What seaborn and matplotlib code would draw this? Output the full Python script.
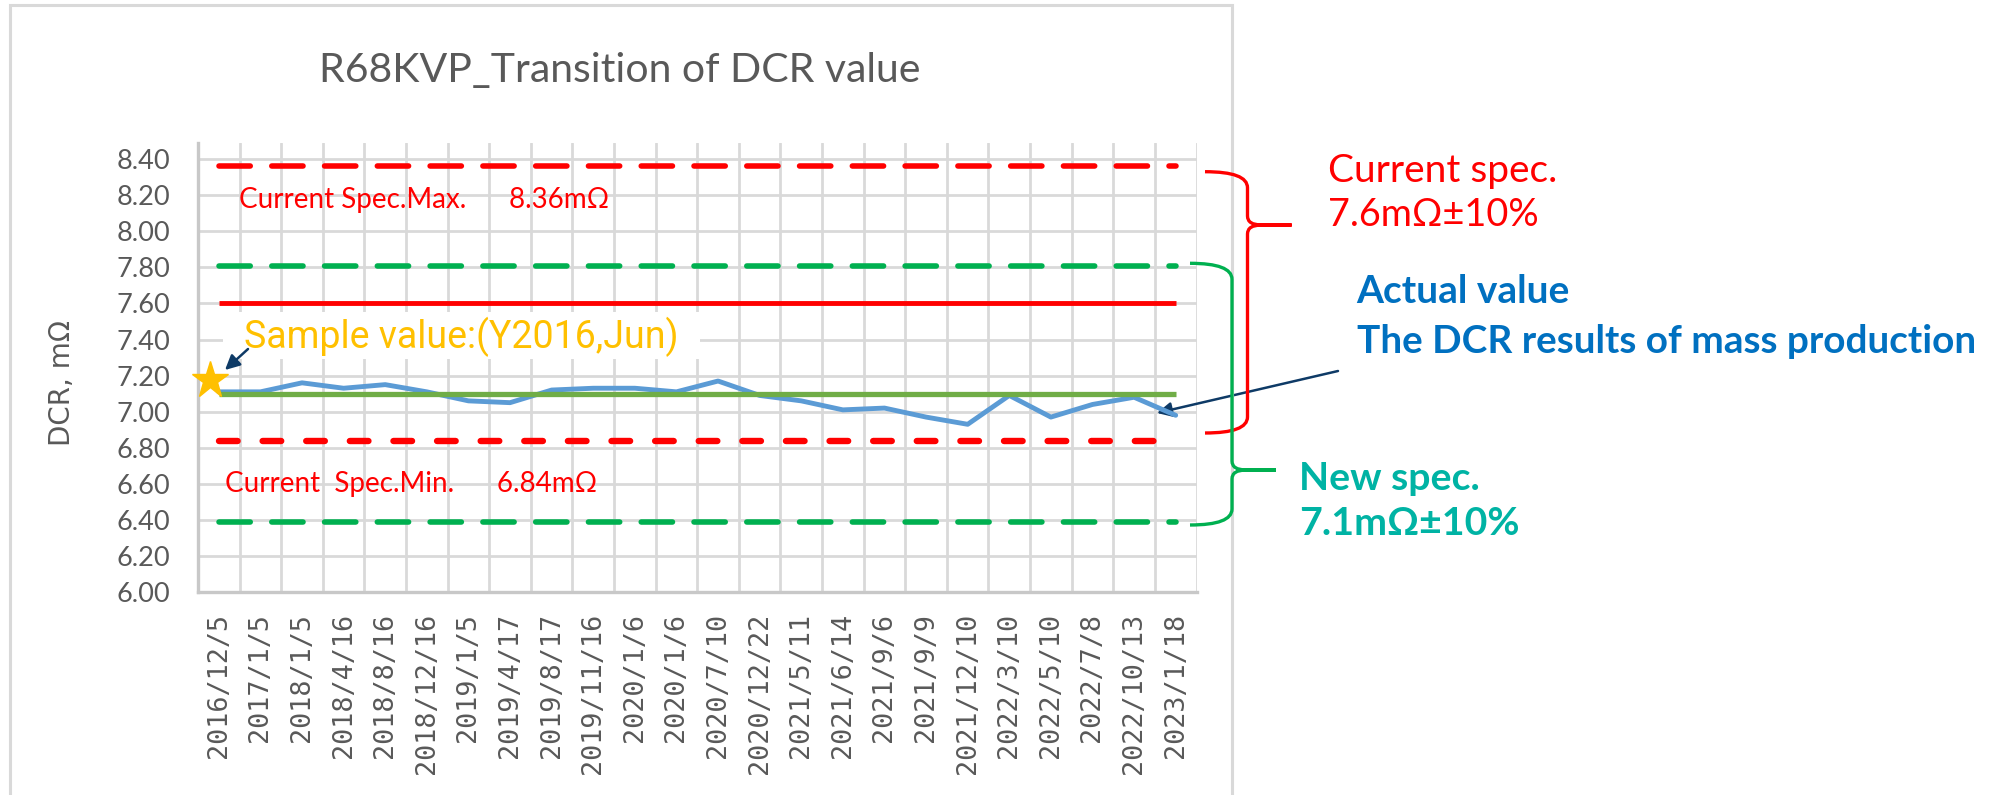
import numpy as np
import pandas as pd
import matplotlib
matplotlib.use("Agg")
import matplotlib.pyplot as plt
from matplotlib.path import Path
from matplotlib.patches import PathPatch, Rectangle
import seaborn as sns

# データ
dates = ["2016/12/5", "2017/1/5", "2018/1/5", "2018/4/16", "2018/8/16", "2018/12/16",
         "2019/1/5", "2019/4/17", "2019/8/17", "2019/11/16", "2020/1/6", "2020/1/6",
         "2020/7/10", "2020/12/22", "2021/5/11", "2021/6/14", "2021/9/6", "2021/9/9",
         "2021/12/10", "2022/3/10", "2022/5/10", "2022/7/8", "2022/10/13", "2023/1/18"]
dcr = [7.11, 7.11, 7.16, 7.13, 7.15, 7.11, 7.06, 7.05, 7.12, 7.13, 7.13, 7.11,
       7.17, 7.09, 7.06, 7.01, 7.02, 6.97, 6.93, 7.09, 6.97, 7.04, 7.08, 6.98]
sample_x = -0.22
sample_value = 7.175
cur_spec, cur_max, cur_min = 7.60, 8.36, 6.84
new_spec, new_max, new_min = 7.10, 7.81, 6.39
y_ticks = [6.00, 6.20, 6.40, 6.60, 6.80, 7.00, 7.20, 7.40, 7.60, 7.80, 8.00, 8.20, 8.40]

df = pd.DataFrame({"pos": np.arange(len(dates)), "date": dates, "dcr": dcr})

sns.set_style("white")
plt.rcParams["font.family"] = ["Lato", "DejaVu Sans"]
plt.rcParams["lines.scale_dashes"] = False

W, H = 1994, 795
fig = plt.figure(figsize=(W / 100, H / 100), dpi=100)


def fx(px):
    return px / W


def fy(py):
    return 1 - py / H


ax = fig.add_axes([fx(198), fy(592), (1196.5 - 198) / W, (592 - 143) / H])

grey = "#595959"
grid_c = "#D9D9D9"

# スペック線
n = len(dates)
long_dash = [(0, (22.5, 15.5))]
ax.hlines(cur_max, 0, n - 1, color="#FF0000", lw=4.0, linestyles=long_dash,
          capstyle="round", zorder=3)
ax.hlines(new_max, 0, n - 1, color="#00B050", lw=4.0, linestyles=long_dash,
          capstyle="round", zorder=3)
ax.hlines(cur_spec, 0, n - 1, color="#FF0000", lw=3.5, zorder=3)
ax.hlines(cur_min, 0, n - 1, color="#FF0000", lw=4.6, linestyles=[(0, (13.4, 18.0))],
          capstyle="round", zorder=3)
ax.hlines(new_min, 0, n - 1, color="#00B050", lw=4.0, linestyles=long_dash,
          capstyle="round", zorder=3)

# 実測値
sns.lineplot(data=df, x="pos", y="dcr", color="#5B9BD5", lw=3.5, ax=ax, zorder=4)
ax.hlines(new_spec, 0, n - 1, color="#70AD47", lw=3.8, zorder=5)

# サンプル値
ax.plot([sample_x], [sample_value], marker="*", ms=28, color="#FFC000", mec="#FFC000",
        ls="none", zorder=6, clip_on=False)

# 軸
ax.set_xlim(-0.5, n - 0.5)
ax.set_ylim(6.0, 8.49)
ax.set_xticks(df["pos"])
ax.set_xticklabels(dates, rotation=90, fontfamily="DejaVu Sans Mono", fontsize=19.3, color=grey)
ax.set_xticks(np.arange(-0.5, n, 1), minor=True)
ax.set_yticks(y_ticks)
ax.set_yticklabels([f"{v:.2f}" for v in y_ticks], fontsize=19.5, color=grey)
ax.tick_params(axis="x", which="both", length=0, pad=15)
ax.tick_params(axis="y", length=0, pad=20)
ax.grid(which="minor", axis="x", color=grid_c, lw=2.0)
ax.grid(which="major", axis="y", color=grid_c, lw=2.0)
ax.grid(which="major", axis="x", visible=False)
ax.set_axisbelow(True)
for s in ["top", "right"]:
    ax.spines[s].set_visible(False)
for s in ["left", "bottom"]:
    ax.spines[s].set_color("#C8C8C8")
    ax.spines[s].set_linewidth(2.4)
ax.set_xlabel("")
ax.set_ylabel("DCR, mΩ", fontfamily="DejaVu Sans", fontsize=20, color=grey, va="center")
ax.yaxis.set_label_coords(-0.136, 0.465)

# グラフ枠
fig.add_artist(Rectangle((fx(10), fy(800)), fx(1232 - 10), (800 - 5) / H, fill=False,
                         ec="#D9D9D9", lw=2.2, transform=fig.transFigure))

fig.text(fx(620), fy(82), "R68KVP_Transition of DCR value", ha="center", va="baseline",
         fontsize=29.5, color=grey)

# グラフ内のテキスト
fig.text(fx(239), fy(208.3), "Current Spec.Max.      8.36mΩ", ha="left", va="baseline",
         fontsize=20, color="#FF0000")
fig.text(fx(225), fy(491.7), "Current  Spec.Min.      6.84mΩ", ha="left", va="baseline",
         fontsize=20, color="#FF0000")
ax.add_patch(Rectangle((fx(223), fy(359)), fx(700 - 223), (359 - 312) / H, fc="white",
                       ec="none", transform=fig.transFigure, zorder=1))
fig.text(fx(244), fy(348.3), "Sample value:(Y2016,Jun)", ha="left", va="baseline",
         fontsize=27, color="#FFC000", family=["Roboto", "DejaVu Sans"])

navy = "#0E3A66"
ax.annotate("", xy=(fx(225), fy(370)), xycoords="figure fraction",
            xytext=(fx(248), fy(349)), textcoords="figure fraction",
            arrowprops=dict(arrowstyle="-|>", color=navy, lw=1.8, mutation_scale=22,
                            shrinkA=0, shrinkB=0))
ax.annotate("", xy=(fx(1157), fy(413)), xycoords="figure fraction",
            xytext=(fx(1338), fy(371)), textcoords="figure fraction",
            arrowprops=dict(arrowstyle="-|>", color=navy, lw=1.8, mutation_scale=22,
                            shrinkA=0, shrinkB=0), annotation_clip=False)


# 中括弧
def brace(x_arm, x_spine, x_tip, y_top, y_tip, y_bot, color):
    pts = [(x_arm, y_top), (x_spine, y_top), (x_spine, y_top + 16),
           (x_spine, y_tip - 9), (x_spine, y_tip), (x_spine + 14, y_tip),
           (x_tip, y_tip),
           (x_spine + 14, y_tip), (x_spine, y_tip), (x_spine, y_tip + 9),
           (x_spine, y_bot - 16), (x_spine, y_bot), (x_arm, y_bot)]
    codes = [Path.MOVETO, Path.CURVE3, Path.CURVE3,
             Path.LINETO, Path.CURVE3, Path.CURVE3,
             Path.LINETO,
             Path.LINETO, Path.CURVE3, Path.CURVE3,
             Path.LINETO, Path.CURVE3, Path.CURVE3]
    verts = [(fx(x), fy(y)) for x, y in pts]
    fig.add_artist(PathPatch(Path(verts, codes), fill=False, ec=color, lw=2.4,
                             transform=fig.transFigure, capstyle="butt"))


brace(1205, 1247.5, 1291.6, 171.7, 225, 433, "#FF0000")
brace(1190, 1232, 1276, 263.3, 470, 525, "#00B050")

# 右側の説明
fig.text(fx(1328), fy(181.7), "Current spec.", ha="left", va="baseline", fontsize=28,
         color="#FF0000")
fig.text(fx(1328), fy(226), "7.6mΩ±10%", ha="left", va="baseline", fontsize=27.3,
         color="#FF0000")
fig.text(fx(1356.5), fy(303.3), "Actual value", ha="left", va="baseline", fontsize=28,
         color="#0070C0", fontweight="bold")
fig.text(fx(1356.5), fy(352.7), "The DCR results of mass production", ha="left",
         va="baseline", fontsize=27.9, color="#0070C0", fontweight="bold")
fig.text(fx(1299.4), fy(490), "New spec.", ha="left", va="baseline", fontsize=28.3,
         color="#00B3A4", fontweight="bold")
fig.text(fx(1299.4), fy(535), "7.1mΩ±10%", ha="left", va="baseline", fontsize=28.3,
         color="#00B3A4", fontweight="bold")

fig.savefig("out.png", dpi=100, facecolor="white")
